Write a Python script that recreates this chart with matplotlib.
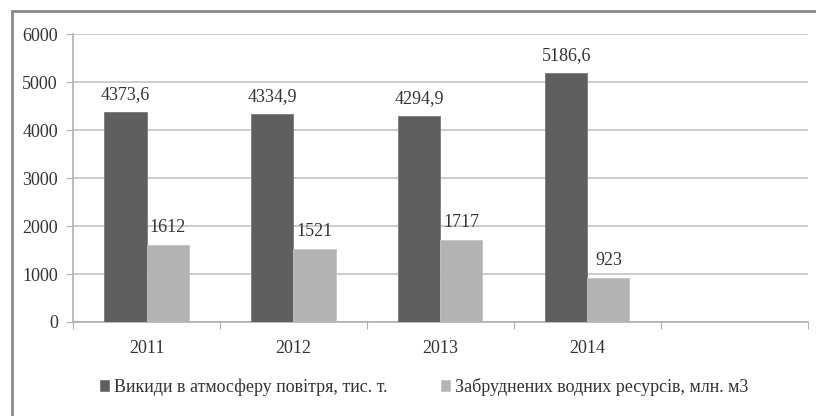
import matplotlib.pyplot as plt
from matplotlib.patches import Rectangle
import numpy as np

years = ['2011', '2012', '2013', '2014', '']
emissions = [4373.6, 4334.9, 4294.9, 5186.6]
water = [1612, 1521, 1717, 923]
emis_labels = ['4373,6', '4334,9', '4294,9', '5186,6']
water_labels = ['1612', '1521', '1717', '923']
series_names = ['Викиди в атмосферу повітря, тис. т.',
                'Забруднених водних ресурсів, млн. м3']

plt.rcParams['font.family'] = ['Liberation Serif', 'DejaVu Serif']

fig = plt.figure(figsize=(8.16, 4.16), dpi=100)
ax = fig.add_axes([0.0895, 0.226, 0.9005, 0.692])

# frame around the chart
fig.patches.append(Rectangle((12/816, -0.05), 2.0, 1 - 11/416 + 0.05,
                             transform=fig.transFigure, fill=False,
                             edgecolor='#8a8a8a', linewidth=2))

w = 0.286
x = np.arange(len(emissions))
b1 = ax.bar(x - w/2, emissions, w, color='#5f5f5f', edgecolor='#7a7a7a',
            linewidth=0.6, label=series_names[0], zorder=3)
b2 = ax.bar(x + w/2, water, w, color='#b3b3b3', edgecolor='#c4c4c4',
            linewidth=0.6, label=series_names[1], zorder=3)

for xi, v, s in zip(x, emissions, emis_labels):
    ax.text(xi - w/2, v + 180, s, ha='center', va='bottom', fontsize=13, color='#333333')
for xi, v, s in zip(x, water, water_labels):
    ax.text(xi + w/2, v + 180, s, ha='center', va='bottom', fontsize=13, color='#333333')

ax.set_xlim(-0.5, 4.5)
ax.set_ylim(0, 6000)
ax.set_yticks(range(0, 6001, 1000))
ax.grid(axis='y', color='#c4c4c4', linewidth=1.2, zorder=0)
ax.set_axisbelow(True)

ax.set_xticks(np.arange(-0.5, 4.6, 1))
ax.set_xticklabels([])
ax.set_xticks(np.arange(0, 5), minor=True)
ax.set_xticklabels(years, minor=True)
ax.tick_params(axis='x', which='minor', length=0, pad=13, labelsize=13, labelcolor='#333333')
ax.tick_params(axis='x', which='major', length=5, color='#b0b0b0')
ax.tick_params(axis='y', length=5, color='#b0b0b0', labelsize=13, labelcolor='#333333', pad=6)

for side in ['top', 'right']:
    ax.spines[side].set_visible(False)
for side in ['left', 'bottom']:
    ax.spines[side].set_color('#b0b0b0')
    ax.spines[side].set_linewidth(1.2)

fig.legend(handles=[b1, b2], loc='center', bbox_to_anchor=(0.52, 0.07), ncol=2,
           frameon=False, fontsize=13, handlelength=0.5, handleheight=0.5,
           handletextpad=0.25, columnspacing=3, labelcolor='#333333')

fig.savefig('out.png', dpi=100, facecolor='white')
